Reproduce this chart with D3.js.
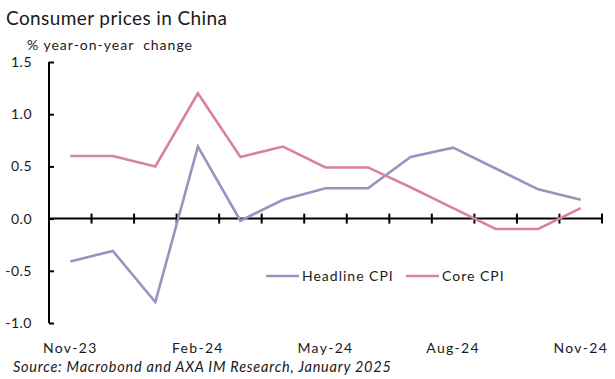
<!DOCTYPE html>
<html>
<head>
<meta charset="utf-8">
<script src="https://cdn.jsdelivr.net/npm/d3@7"></script>
<style>
  body { margin: 0; background: #fff; }
  text { font-family: Lato, "Open Sans", sans-serif; fill: #1a1a1a; }
</style>
</head>
<body>
<script>
var months = ["Nov-23","Dec-23","Jan-24","Feb-24","Mar-24","Apr-24","May-24","Jun-24","Jul-24","Aug-24","Sep-24","Oct-24","Nov-24"];
var headline = [-0.41, -0.31, -0.8, 0.69, -0.02, 0.18, 0.29, 0.29, 0.59, 0.68, 0.48, 0.28, 0.18];
var core = [0.6, 0.6, 0.5, 1.2, 0.59, 0.69, 0.49, 0.49, 0.3, 0.1, -0.1, -0.1, 0.1];
var yTicks = [1.5, 1.0, 0.5, 0.0, -0.5, -1.0];
var xLabelIdx = [0, 3, 6, 9, 12];

var svgWidth = 615;
var svgHeight = 379;

var svg = d3.select("body").append("svg")
    .attr("width", svgWidth)
    .attr("height", svgHeight);

// scales: index -> px, ticks sit between months
var xScale = d3.scaleLinear()
    .domain([-0.5, months.length - 0.5])
    .range([49, 602]);
var yScale = d3.scaleLinear()
    .domain([-1.0, 1.5])
    .range([323, 62]);

// title + unit
svg.append("text")
    .attr("x", 6)
    .attr("y", 25)
    .attr("font-size", 19)
    .attr("letter-spacing", 0.4)
    .text("Consumer prices in China");
svg.append("text")
    .attr("x", 27)
    .attr("y", 50)
    .attr("font-size", 14)
    .attr("letter-spacing", 1)
    .attr("xml:space", "preserve")
    .text("% year-on-year  change");

// y axis
var y_axis = d3.axisRight(yScale)
    .tickValues(yTicks)
    .tickSize(5)
    .tickFormat("");
var gy = svg.append("g")
    .attr("transform", "translate(49,0)")
    .call(y_axis);
gy.select(".domain").attr("stroke", "#000").attr("stroke-width", 2).attr("d", "M0," + yScale(1.5) + "V" + yScale(-1.0));
gy.selectAll(".tick line").attr("stroke", "#000").attr("stroke-width", 2);

svg.selectAll(".ylab")
    .data(yTicks)
    .enter().append("text")
    .attr("class", "ylab")
    .attr("x", 32)
    .attr("y", function(d) { return yScale(d) + 5; })
    .attr("text-anchor", "end")
    .attr("font-size", 14)
    .attr("letter-spacing", 0.5)
    .text(function(d) { return d3.format(".1f")(d).replace("−", "-"); });

// x axis line through zero with crossing ticks
var tickPos = d3.range(months.length + 1).map(function(i) { return i - 0.5; });
svg.append("line")
    .attr("x1", xScale(-0.5))
    .attr("x2", xScale(months.length - 0.5))
    .attr("y1", yScale(0))
    .attr("y2", yScale(0))
    .attr("stroke", "#000")
    .attr("stroke-width", 2);
svg.selectAll(".xtick")
    .data(tickPos.slice(1))
    .enter().append("line")
    .attr("class", "xtick")
    .attr("x1", function(d) { return xScale(d); })
    .attr("x2", function(d) { return xScale(d); })
    .attr("y1", yScale(0) - 5)
    .attr("y2", yScale(0) + 5)
    .attr("stroke", "#000")
    .attr("stroke-width", 2);

svg.selectAll(".xlab")
    .data(xLabelIdx)
    .enter().append("text")
    .attr("class", "xlab")
    .attr("x", function(d) { return xScale(d); })
    .attr("y", 353)
    .attr("text-anchor", "middle")
    .attr("font-size", 14)
    .attr("letter-spacing", 1.3)
    .text(function(d) { return months[d]; });

// lines
var line = d3.line()
    .x(function(d, i) { return xScale(i); })
    .y(function(d) { return yScale(d); });

var series = [
    { name: "Headline CPI", values: headline, color: "#9893c0" },
    { name: "Core CPI", values: core, color: "#d9829f" }
];

svg.selectAll(".series")
    .data(series)
    .enter().append("path")
    .attr("class", "series")
    .attr("d", function(d) { return line(d.values); })
    .attr("fill", "none")
    .attr("stroke", function(d) { return d.color; })
    .attr("stroke-width", 2.6)
    .attr("stroke-linejoin", "miter");

// legend
var legX = [266, 406];
series.forEach(function(s, i) {
    svg.append("line")
        .attr("x1", legX[i])
        .attr("x2", legX[i] + 33)
        .attr("y1", 276)
        .attr("y2", 276)
        .attr("stroke", s.color)
        .attr("stroke-width", 2.6);
    svg.append("text")
        .attr("x", legX[i] + 36)
        .attr("y", 281)
        .attr("font-size", 14)
        .attr("letter-spacing", 1)
        .text(s.name);
});

// source
svg.append("text")
    .attr("x", 13)
    .attr("y", 372)
    .attr("font-size", 14.5)
    .attr("font-style", "italic")
    .attr("letter-spacing", 0.75)
    .text("Source: Macrobond and AXA IM Research, January 2025");
</script>
</body>
</html>
